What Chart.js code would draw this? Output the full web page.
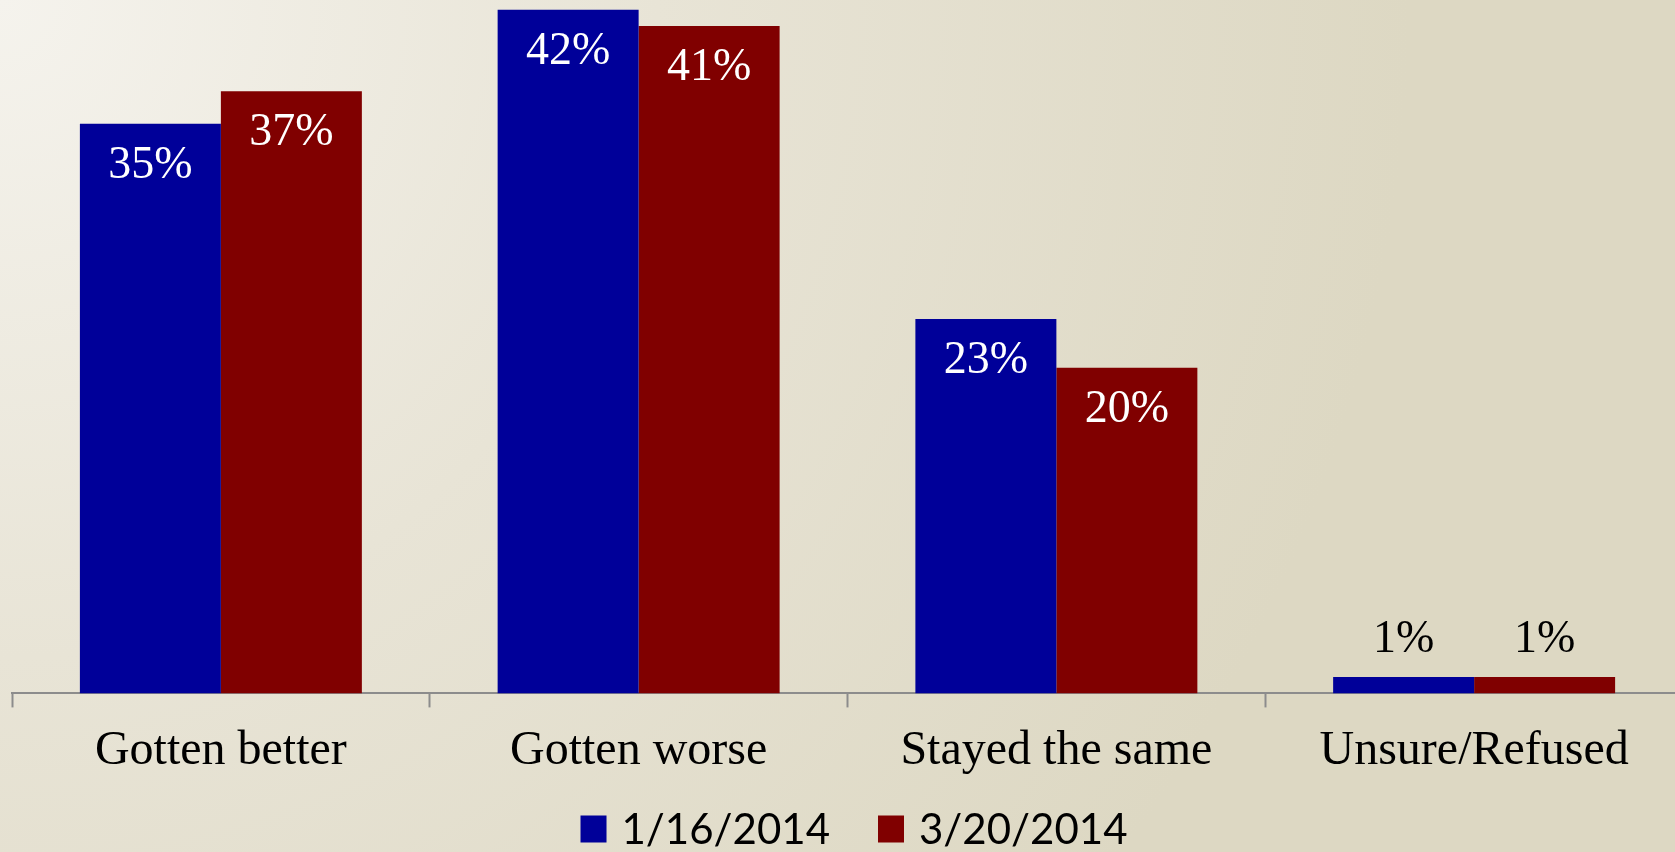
<!DOCTYPE html>
<html>
<head>
<meta charset="utf-8">
<script src="https://cdn.jsdelivr.net/npm/chart.js@4"></script>
<style>
  html, body {
    margin: 0;
    padding: 0;
    width: 1675px;
    height: 852px;
    overflow: hidden;
    background: radial-gradient(circle at 0 0, #f5f3ed 0%, #e8e4d6 35%, #ddd8c3 75%);
  }
  canvas { display: block; }
</style>
</head>
<body>
<canvas id="chart" width="1700" height="852"></canvas>
<script>
// Chart data
const categories = ['Gotten better', 'Gotten worse', 'Stayed the same', 'Unsure/Refused'];
const seriesLabels = ['1/16/2014', '3/20/2014'];
const january = [35, 42, 23, 1];
const march = [37, 41, 20, 1];
const seriesColors = ['#000099', '#800000'];

/**
 * Draw the percentage labels: inside the bar for tall bars, above it for tiny ones
 */
const barLabels = {
  id: 'barLabels',
  afterDatasetsDraw(chart) {
    const ctx = chart.ctx;
    ctx.save();
    ctx.font = '46px "Liberation Serif", "Times New Roman", serif';
    ctx.textAlign = 'center';
    ctx.textBaseline = 'middle';
    chart.data.datasets.forEach((ds, i) => {
      chart.getDatasetMeta(i).data.forEach((bar, j) => {
        const value = ds.data[j];
        if (value >= 5) {
          ctx.fillStyle = '#ffffff';
          ctx.fillText(value + '%', bar.x, bar.y + 42);
        } else {
          ctx.fillStyle = '#000000';
          ctx.fillText(value + '%', bar.x, bar.y - 37);
        }
      });
    });
    ctx.restore();
  }
};

/**
 * Legend drawn by hand so it can sit where the original one sits
 */
const bottomLegend = {
  id: 'bottomLegend',
  afterDraw(chart) {
    const ctx = chart.ctx;
    const boxW = 26, boxH = 27, gap = 15, itemGap = 48;
    const centerX = 854, centerY = 829;
    ctx.save();
    ctx.font = '42px Lato, "Open Sans", sans-serif';
    ctx.textBaseline = 'middle';
    ctx.textAlign = 'left';
    const widths = chart.data.datasets.map(ds => ctx.measureText(ds.label).width);
    let total = 0;
    widths.forEach((w, i) => {
      total += boxW + gap + w + (i > 0 ? itemGap : 0);
    });
    let x = centerX - total / 2;
    chart.data.datasets.forEach((ds, i) => {
      ctx.fillStyle = ds.backgroundColor;
      ctx.fillRect(x, centerY - boxH / 2, boxW, boxH);
      x += boxW + gap;
      ctx.fillStyle = '#000000';
      ctx.fillText(ds.label, x, centerY + 1);
      x += widths[i] + itemGap;
    });
    ctx.restore();
  }
};

new Chart(document.getElementById('chart').getContext('2d'), {
  type: 'bar',
  data: {
    labels: categories,
    datasets: [
      {
        label: seriesLabels[0],
        data: january,
        backgroundColor: seriesColors[0],
        categoryPercentage: 0.675,
        barPercentage: 1.0
      },
      {
        label: seriesLabels[1],
        data: march,
        backgroundColor: seriesColors[1],
        categoryPercentage: 0.675,
        barPercentage: 1.0
      }
    ]
  },
  options: {
    responsive: false,
    animation: false,
    layout: {
      padding: { left: 12, right: 17, top: 0, bottom: 57 }
    },
    plugins: {
      legend: { display: false },
      tooltip: { enabled: false }
    },
    scales: {
      x: {
        grid: {
          display: true,
          drawOnChartArea: false,
          drawTicks: true,
          tickLength: 14,
          tickWidth: 2,
          color: '#8c8c8c'
        },
        border: { display: true, color: '#8c8c8c', width: 2 },
        ticks: {
          color: '#000000',
          padding: 15,
          font: { family: '"Liberation Serif", "Times New Roman", serif', size: 48 }
        }
      },
      y: {
        display: false,
        min: 0,
        max: 42.6
      }
    }
  },
  plugins: [barLabels, bottomLegend]
});
</script>
</body>
</html>
